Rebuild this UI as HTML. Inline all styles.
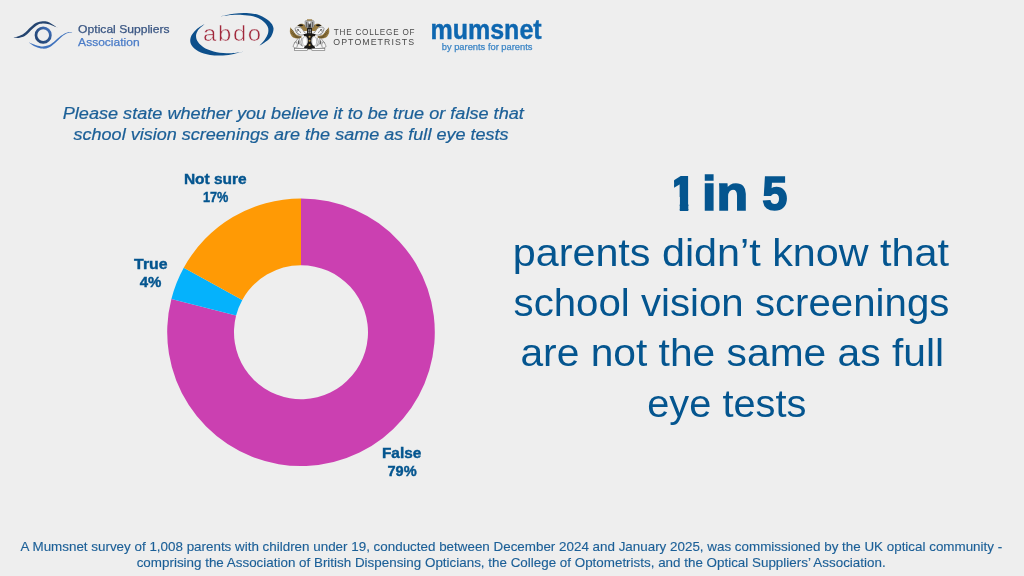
<!DOCTYPE html>
<html lang="en">
<head>
<meta charset="utf-8">
<title>1 in 5 parents didn’t know that school vision screenings are not the same as full eye tests</title>
<style>
html,body{margin:0;padding:0;}
header,p,h1,footer,div{margin:0;padding:0;font-size:inherit;font-weight:inherit;}
body{width:1024px;height:576px;overflow:hidden;background:#EEEEEE;position:relative;font-family:"Liberation Sans",sans-serif;}
.t{position:absolute;white-space:nowrap;display:inline-block;transform-origin:0 0;}
svg{position:absolute;left:0;top:0;}
.w{display:block;position:absolute;left:0;top:0;width:1024px;height:576px;}
</style>
</head>
<body>
<svg width="1024" height="576" viewBox="0 0 1024 576">
<!-- donut chart -->
<g shape-rendering="geometricPrecision">
<path d="M301.00 198.40A133.8 133.8 0 1 1 171.40 298.93L236.10 315.54A67.0 67.0 0 1 0 301.00 265.20Z" fill="#CB40B1"/>
<path d="M171.40 298.93A133.8 133.8 0 0 1 183.75 267.74L242.29 299.92A67.0 67.0 0 0 0 236.10 315.54Z" fill="#05B2FC"/>
<path d="M183.75 267.74A133.8 133.8 0 0 1 301.00 198.40L301.00 265.20A67.0 67.0 0 0 0 242.29 299.92Z" fill="#FF9A05"/>
</g>
<path d="M220.82 16.28C222.97 15.87 229.41 14.35 233.71 13.81C238.01 13.27 242.31 12.82 246.60 13.06C250.90 13.29 255.73 13.86 259.49 15.21C263.25 16.55 266.83 18.96 269.16 21.11C271.49 23.26 273.10 25.59 273.46 28.10C273.82 30.60 272.56 33.91 271.31 36.15C270.06 38.39 267.91 39.95 265.94 41.52C263.97 43.10 260.57 44.93 259.49 45.61L259.49 45.61C260.39 44.57 263.43 41.49 264.86 39.38C266.30 37.26 267.64 35.08 268.09 32.93C268.53 30.78 268.62 28.63 267.55 26.48C266.48 24.34 264.06 21.74 261.64 20.04C259.22 18.34 256.27 17.14 253.05 16.28C249.82 15.42 245.89 15.10 242.31 14.88C238.72 14.67 235.14 14.76 231.56 14.99C227.98 15.22 222.61 16.06 220.82 16.28Z" fill="#0D4F8B"/>
<path d="M204.92 23.80C203.45 24.78 198.48 27.47 196.11 29.71C193.75 31.95 191.55 34.72 190.74 37.23C189.94 39.73 190.03 42.42 191.28 44.75C192.53 47.07 195.13 49.49 198.26 51.19C201.40 52.89 205.96 54.24 210.08 54.95C214.20 55.67 219.03 55.67 222.97 55.49C226.91 55.31 230.40 54.50 233.71 53.88C237.02 53.25 241.32 52.09 242.84 51.73L242.84 51.94C240.96 52.14 235.41 52.98 231.56 53.13C227.71 53.27 223.69 53.39 219.75 52.80C215.81 52.21 211.33 51.10 207.93 49.58C204.53 48.06 201.31 45.73 199.34 43.67C197.37 41.61 196.38 39.38 196.11 37.23C195.84 35.08 196.26 33.02 197.72 30.78C199.19 28.54 203.72 24.96 204.92 23.80Z" fill="#0D4F8B"/>
<defs><linearGradient id="g1" x1="1" y1="0" x2="0" y2="1"><stop offset="0" stop-color="#4272C0"/><stop offset="0.45" stop-color="#2E568F"/><stop offset="1" stop-color="#20406E"/></linearGradient></defs>
<path d="M13.82 37.57C14.69 37.31 17.35 36.70 19.03 36.04C20.71 35.38 21.92 35.12 23.89 33.61C25.86 32.11 28.75 28.81 30.83 27.01C32.92 25.22 34.42 23.80 36.39 22.85C38.36 21.90 40.56 21.44 42.64 21.32C44.72 21.20 46.46 21.12 48.89 22.15C51.32 23.18 55.83 26.61 57.22 27.50L57.22 27.64C55.83 27.08 51.32 24.98 48.89 24.31C46.46 23.63 44.55 23.51 42.64 23.61C40.73 23.72 39.14 24.05 37.43 24.93C35.72 25.81 34.36 27.11 32.36 28.89C30.36 30.67 27.52 34.16 25.42 35.62C23.31 37.09 21.66 37.35 19.72 37.71C17.79 38.07 14.80 37.77 13.82 37.78Z" fill="#24446F"/>
<path d="M29.10 42.64C30.20 43.32 33.44 45.74 35.69 46.74C37.95 47.73 40.44 48.50 42.64 48.61C44.84 48.73 46.86 48.32 48.89 47.43C50.91 46.54 52.65 45.03 54.79 43.26C56.93 41.49 59.71 38.46 61.74 36.81C63.76 35.15 65.21 34.11 66.94 33.33C68.68 32.56 71.28 32.35 72.15 32.15L72.15 31.94C71.23 32.06 68.47 31.99 66.60 32.64C64.72 33.29 63.04 34.28 60.90 35.83C58.76 37.38 55.81 40.37 53.75 41.94C51.69 43.52 50.39 44.54 48.54 45.28C46.69 46.02 44.72 46.41 42.64 46.39C40.56 46.37 38.30 45.80 36.04 45.14C33.78 44.48 30.25 42.88 29.10 42.43Z" fill="#3F72BD"/>
<circle cx="43.19" cy="35.14" r="7.2" fill="none" stroke="url(#g1)" stroke-width="2.7"/>
<path d="M295.19 28.19C295.48 27.33 296.99 27.09 298.11 27.15C299.23 27.21 300.89 27.67 301.93 28.54C302.97 29.41 303.38 31.15 304.36 32.36C305.34 33.58 307.25 33.29 307.83 35.83C308.41 38.38 310.03 45.67 307.83 47.64C305.63 49.61 296.95 48.22 294.64 47.64C292.32 47.06 293.48 45.56 293.94 44.17C294.41 42.78 296.55 40.69 297.42 39.31C298.28 37.92 299.33 36.99 299.15 35.83C298.98 34.68 297.03 33.63 296.38 32.36C295.72 31.09 294.91 29.06 295.19 28.19Z" fill="#f6f6f6" stroke="#5d5d5d" stroke-width="0.6"/>
<path d="M323.94 28.19C323.66 27.33 322.15 27.09 321.03 27.15C319.91 27.21 318.25 27.67 317.21 28.54C316.17 29.41 315.76 31.15 314.78 32.36C313.79 33.58 311.88 33.29 311.31 35.83C310.73 38.38 309.11 45.67 311.31 47.64C313.50 49.61 322.19 48.22 324.50 47.64C326.81 47.06 325.66 45.56 325.19 44.17C324.73 42.78 322.59 40.69 321.72 39.31C320.85 37.92 319.81 36.99 319.99 35.83C320.16 34.68 322.10 33.63 322.76 32.36C323.42 31.09 324.23 29.06 323.94 28.19Z" fill="#f6f6f6" stroke="#5d5d5d" stroke-width="0.6"/>
<path d="M290.33 27.22C290.26 28.08 289.60 30.79 289.92 32.36C290.23 33.94 291.07 35.65 292.21 36.67C293.34 37.69 295.18 38.31 296.72 38.47C298.26 38.63 300.66 37.78 301.44 37.64L301.44 36.11C300.89 36.02 299.15 36.01 298.11 35.56C297.07 35.10 296.07 34.26 295.19 33.40C294.31 32.55 293.64 31.45 292.83 30.42C292.02 29.39 290.75 27.75 290.33 27.22Z" fill="#9A7D42"/>
<path d="M328.81 27.22C328.88 28.08 329.53 30.79 329.22 32.36C328.91 33.94 328.06 35.65 326.93 36.67C325.80 37.69 323.96 38.31 322.42 38.47C320.88 38.63 318.48 37.78 317.69 37.64L317.69 36.11C318.25 36.02 319.99 36.01 321.03 35.56C322.07 35.10 323.06 34.26 323.94 33.40C324.82 32.55 325.50 31.45 326.31 30.42C327.12 29.39 328.39 27.75 328.81 27.22Z" fill="#9A7D42"/>
<path d="M291.03 29.24L293.94 31.67" stroke="#4a3a1a" stroke-width="0.55" fill="none"/>
<path d="M328.11 29.24L325.19 31.67" stroke="#4a3a1a" stroke-width="0.55" fill="none"/>
<path d="M290.82 31.32L294.99 34.10" stroke="#4a3a1a" stroke-width="0.55" fill="none"/>
<path d="M328.32 31.32L324.15 34.10" stroke="#4a3a1a" stroke-width="0.55" fill="none"/>
<path d="M291.31 33.40L296.38 35.83" stroke="#4a3a1a" stroke-width="0.55" fill="none"/>
<path d="M327.83 33.40L322.76 35.83" stroke="#4a3a1a" stroke-width="0.55" fill="none"/>
<path d="M292.90 35.83L298.81 37.08" stroke="#4a3a1a" stroke-width="0.55" fill="none"/>
<path d="M326.24 35.83L320.33 37.08" stroke="#4a3a1a" stroke-width="0.55" fill="none"/>
<path d="M295.33 37.57L300.54 37.08" stroke="#4a3a1a" stroke-width="0.55" fill="none"/>
<path d="M323.81 37.57L318.60 37.08" stroke="#4a3a1a" stroke-width="0.55" fill="none"/>
<path d="M297.28 25.83C297.45 25.37 299.65 23.87 300.89 23.68C302.13 23.50 303.67 24.03 304.71 24.72C305.75 25.42 306.62 26.86 307.14 27.85C307.66 28.83 308.41 30.13 307.83 30.62C307.25 31.12 304.65 31.18 303.67 30.83C302.68 30.49 302.57 29.27 301.93 28.54C301.29 27.81 300.62 26.91 299.85 26.46C299.07 26.01 297.10 26.30 297.28 25.83Z" fill="#9A7D42"/>
<path d="M321.86 25.83C321.69 25.37 319.49 23.87 318.25 23.68C317.01 23.50 315.47 24.03 314.43 24.72C313.39 25.42 312.52 26.86 312.00 27.85C311.48 28.83 310.73 30.13 311.31 30.62C311.88 31.12 314.49 31.18 315.47 30.83C316.46 30.49 316.57 29.27 317.21 28.54C317.84 27.81 318.52 26.91 319.29 26.46C320.07 26.01 322.03 26.30 321.86 25.83Z" fill="#9A7D42"/>
<path d="M297.76 25.56C297.82 25.20 299.96 24.21 300.89 24.17C301.81 24.12 303.38 24.92 303.32 25.28C303.26 25.64 301.47 26.27 300.54 26.32C299.62 26.37 297.71 25.91 297.76 25.56Z" fill="#1b1916"/>
<path d="M321.38 25.56C321.32 25.20 319.18 24.21 318.25 24.17C317.32 24.12 315.76 24.92 315.82 25.28C315.88 25.64 317.67 26.27 318.60 26.32C319.52 26.37 321.43 25.91 321.38 25.56Z" fill="#1b1916"/>
<path d="M296.72 28.89C297.13 29.18 298.46 29.93 299.15 30.62C299.85 31.32 300.60 32.65 300.89 33.06" fill="none" stroke="#5d5d5d" stroke-width="0.6"/>
<path d="M322.42 28.89C322.01 29.18 320.68 29.93 319.99 30.62C319.29 31.32 318.54 32.65 318.25 33.06" fill="none" stroke="#5d5d5d" stroke-width="0.6"/>
<path d="M295.33 29.93C295.68 30.22 297.24 31.26 297.42 31.67C297.59 32.07 296.55 32.25 296.38 32.36" fill="none" stroke="#5d5d5d" stroke-width="0.6"/>
<path d="M323.81 29.93C323.46 30.22 321.90 31.26 321.72 31.67C321.55 32.07 322.59 32.25 322.76 32.36" fill="none" stroke="#5d5d5d" stroke-width="0.6"/>
<path d="M300.19 35.83C300.02 36.53 299.21 38.61 299.15 40.00C299.09 41.39 299.21 43.12 299.85 44.17C300.48 45.21 302.45 45.90 302.97 46.25" fill="none" stroke="#5d5d5d" stroke-width="0.6"/>
<path d="M318.94 35.83C319.12 36.53 319.93 38.61 319.99 40.00C320.04 41.39 319.93 43.12 319.29 44.17C318.66 45.21 316.69 45.90 316.17 46.25" fill="none" stroke="#5d5d5d" stroke-width="0.6"/>
<path d="M296.03 41.39C296.26 41.97 297.30 43.88 297.42 44.86C297.53 45.84 296.84 46.89 296.72 47.29" fill="none" stroke="#5d5d5d" stroke-width="0.6"/>
<path d="M323.11 41.39C322.88 41.97 321.84 43.88 321.72 44.86C321.61 45.84 322.30 46.89 322.42 47.29" fill="none" stroke="#5d5d5d" stroke-width="0.6"/>
<path d="M301.93 37.92C301.76 38.61 300.89 40.81 300.89 42.08C300.89 43.36 301.76 44.98 301.93 45.56" fill="none" stroke="#5d5d5d" stroke-width="0.6"/>
<path d="M317.21 37.92C317.38 38.61 318.25 40.81 318.25 42.08C318.25 43.36 317.38 44.98 317.21 45.56" fill="none" stroke="#5d5d5d" stroke-width="0.6"/>
<path d="M294.29 42.78C294.52 42.66 295.45 42.20 295.68 42.08" fill="none" stroke="#5d5d5d" stroke-width="0.6"/>
<path d="M324.85 42.78C324.62 42.66 323.69 42.20 323.46 42.08" fill="none" stroke="#5d5d5d" stroke-width="0.6"/>
<path d="M297.42 33.06C298.00 33.40 299.85 34.91 300.89 35.14C301.93 35.37 303.20 34.56 303.67 34.44" fill="none" stroke="#5d5d5d" stroke-width="0.6"/>
<path d="M321.72 33.06C321.14 33.40 319.29 34.91 318.25 35.14C317.21 35.37 315.94 34.56 315.47 34.44" fill="none" stroke="#5d5d5d" stroke-width="0.6"/>
<ellipse cx="298.11" cy="29.93" rx="0.97" ry="0.69" fill="#444" />
<ellipse cx="321.03" cy="29.93" rx="0.97" ry="0.69" fill="#444" />
<ellipse cx="298.46" cy="42.43" rx="0.62" ry="2.08" fill="#555" />
<ellipse cx="320.68" cy="42.43" rx="0.62" ry="2.08" fill="#555" />
<rect x="305.19" y="20.69" width="8.75" height="6.53" fill="#e4e4e4" rx="0.8" stroke="#5d5d5d" stroke-width="0.6"/>
<rect x="307.00" y="19.31" width="5.14" height="1.25" fill="#9A7D42" />
<rect x="305.89" y="21.60" width="1.67" height="5.35" fill="#666" />
<rect x="311.58" y="21.60" width="1.67" height="5.35" fill="#666" />
<rect x="308.25" y="23.33" width="2.64" height="3.89" fill="#333" />
<path d="M307.83 21.25L309.57 24.72L311.31 21.25Z" fill="#fff" stroke="#5d5d5d" stroke-width="0.4"/>
<path d="M307.28 28.06C307.84 27.41 311.29 27.41 311.86 28.06C312.43 28.70 311.73 32.91 312.14 33.61C312.54 34.31 314.98 33.78 315.33 34.03C315.68 34.27 315.42 35.40 315.12 35.69C314.83 35.99 313.26 36.15 312.83 36.53C312.40 36.91 311.61 38.27 311.44 38.96C311.28 39.65 311.28 41.73 311.44 42.43C311.61 43.14 312.46 44.51 312.83 45.00C313.21 45.49 314.45 46.19 314.64 46.60C314.83 47.00 315.02 48.17 314.43 48.47C313.84 48.77 310.70 49.17 309.57 49.17C308.44 49.17 305.30 48.77 304.71 48.47C304.12 48.17 304.31 47.00 304.50 46.60C304.69 46.19 305.93 45.49 306.31 45.00C306.68 44.51 307.53 43.14 307.69 42.43C307.86 41.73 307.86 39.65 307.69 38.96C307.53 38.27 306.73 36.91 306.31 36.53C305.88 36.15 304.31 35.99 304.01 35.69C303.72 35.40 303.46 34.27 303.81 34.03C304.15 33.78 306.59 34.31 307.00 33.61C307.41 32.91 306.71 28.70 307.28 28.06Z" fill="#1b1916"/>
<ellipse cx="304.92" cy="41.25" rx="2.36" ry="4.58" fill="#ffffff" stroke="#5d5d5d" stroke-width="0.4"/>
<ellipse cx="314.22" cy="41.25" rx="2.36" ry="4.58" fill="#ffffff" stroke="#5d5d5d" stroke-width="0.4"/>
<rect x="308.04" y="35.83" width="3.06" height="9.72" fill="#1b1916" />
<ellipse cx="309.57" cy="36.67" rx="1.04" ry="1.04" fill="#B39450" />
<ellipse cx="309.57" cy="40.83" rx="1.04" ry="1.04" fill="#B39450" />
<ellipse cx="309.57" cy="45.00" rx="1.04" ry="1.04" fill="#B39450" />
<rect x="308.04" y="29.24" width="3.06" height="3.96" fill="#8d8d8d" />
<rect x="309.36" y="29.24" width="0.42" height="3.96" fill="#1b1916" />
<rect x="308.04" y="30.97" width="3.06" height="0.42" fill="#1b1916" />
<ellipse cx="305.61" cy="47.64" rx="1.39" ry="0.62" fill="#1b1916" />
<ellipse cx="313.53" cy="47.64" rx="1.39" ry="0.62" fill="#1b1916" />
<rect x="294.29" y="48.47" width="12.99" height="1.81" fill="#ffffff" stroke="#5d5d5d" stroke-width="0.55"/>
<rect x="311.86" y="48.47" width="12.99" height="1.81" fill="#ffffff" stroke="#5d5d5d" stroke-width="0.55"/>
</svg>
<header class="logos">
<span class="t" id="o1" style="left:0;top:0;font-size:11.2px;line-height:11.2px;font-weight:400;font-style:normal;color:#3A5683;-webkit-text-stroke:0.25px #3A5683;transform:translate(78.12px,24.29px) scaleX(1.0821)">Optical Suppliers</span>
<span class="t" id="o2" style="left:0;top:0;font-size:11.2px;line-height:11.2px;font-weight:400;font-style:normal;color:#4A7CC8;-webkit-text-stroke:0.25px #4A7CC8;transform:translate(78.12px,37.09px) scaleX(1.0748)">Association</span>
<span class="t" id="c1" style="left:0;top:0;font-size:8.3px;line-height:8.3px;font-weight:400;font-style:normal;color:#4a4a4a;letter-spacing:0.8px;transform:translate(333.80px,27.97px) scaleX(0.9799)">THE COLLEGE OF</span>
<span class="t" id="c2" style="left:0;top:0;font-size:8.3px;line-height:8.3px;font-weight:400;font-style:normal;color:#4a4a4a;letter-spacing:1.0px;transform:translate(333.30px,38.47px) scaleX(1.0590)">OPTOMETRISTS</span>
<span class="t" id="m1" style="left:0;top:0;font-size:26.8px;line-height:26.8px;font-weight:700;font-style:normal;color:#0E67B0;-webkit-text-stroke:0.4px #0E67B0;transform:translate(430.47px,17.01px) scaleX(0.9332)">mumsnet</span>
<span class="t" id="m2" style="left:0;top:0;font-size:9.2px;line-height:9.2px;font-weight:400;font-style:normal;color:#3D86C6;-webkit-text-stroke:0.25px #3D86C6;transform:translate(441.73px,42.79px) scaleX(1.0153)">by parents for parents</span>
<span class="t" id="a1" style="left:0;top:0;font-size:22.3px;line-height:22.3px;font-weight:400;font-style:normal;color:#A0263A;letter-spacing:1.5px;-webkit-text-stroke:0.55px #EEEEEE;transform:translate(203.10px,23.02px) scaleX(1.0726)">abdo</span>
</header>
<p class="question">
<span class="t" id="q1" style="left:0;top:0;font-size:15.6px;line-height:15.6px;font-weight:400;font-style:italic;color:#1B5F97;-webkit-text-stroke:0.2px #1B5F97;transform:translate(62.70px,106.09px) scaleX(1.1615)">Please state whether you believe it to be true or false that</span>
<span class="t" id="q2" style="left:0;top:0;font-size:15.6px;line-height:15.6px;font-weight:400;font-style:italic;color:#1B5F97;-webkit-text-stroke:0.2px #1B5F97;transform:translate(73.50px,126.79px) scaleX(1.1566)">school vision screenings are the same as full eye tests</span>
</p>
<div class="chart-labels">
<span class="t" id="l1" style="left:0;top:0;font-size:14.4px;line-height:14.4px;font-weight:700;font-style:normal;color:#04558F;-webkit-text-stroke:0.4px #04558F;transform:translate(183.90px,172.41px) scaleX(1.0759)">Not sure</span>
<span class="t" id="l2" style="left:0;top:0;font-size:14.4px;line-height:14.4px;font-weight:700;font-style:normal;color:#04558F;-webkit-text-stroke:0.4px #04558F;transform:translate(202.90px,190.41px) scaleX(0.8826)">17%</span>
<span class="t" id="l3" style="left:0;top:0;font-size:14.4px;line-height:14.4px;font-weight:700;font-style:normal;color:#04558F;-webkit-text-stroke:0.4px #04558F;transform:translate(134.10px,256.51px) scaleX(1.0992)">True</span>
<span class="t" id="l4" style="left:0;top:0;font-size:14.4px;line-height:14.4px;font-weight:700;font-style:normal;color:#04558F;-webkit-text-stroke:0.4px #04558F;transform:translate(139.70px,274.51px) scaleX(1.0427)">4%</span>
<span class="t" id="l5" style="left:0;top:0;font-size:14.4px;line-height:14.4px;font-weight:700;font-style:normal;color:#04558F;-webkit-text-stroke:0.4px #04558F;transform:translate(381.90px,446.21px) scaleX(1.0708)">False</span>
<span class="t" id="l6" style="left:0;top:0;font-size:14.4px;line-height:14.4px;font-weight:700;font-style:normal;color:#04558F;-webkit-text-stroke:0.4px #04558F;transform:translate(387.50px,464.31px) scaleX(1.0136)">79%</span>
</div>
<h1 class="headline">
<span class="w" style="clip-path:polygon(674.1px 170px,688.3px 170px,688.3px 215px,679.8px 215px,679.8px 197px,674.1px 197px)"><span class="t" id="h1a" style="left:0;top:0;font-size:48.8px;line-height:48.8px;font-weight:700;font-style:normal;color:#04558F;-webkit-text-stroke:2.0px #04558F;transform:translate(669.20px,168.69px) scaleX(1.0000)">1</span></span>
<span class="t" id="h1b" style="left:0;top:0;font-size:48.8px;line-height:48.8px;font-weight:700;font-style:normal;color:#04558F;-webkit-text-stroke:1.6px #04558F;transform:translate(702.11px,168.89px) scaleX(1.0624)">in</span>
<span class="t" id="h1c" style="left:0;top:0;font-size:48.8px;line-height:48.8px;font-weight:700;font-style:normal;color:#04558F;-webkit-text-stroke:1.6px #04558F;transform:translate(762.37px,169.49px) scaleX(0.9280)">5</span>
</h1>
<p class="statement">
<span class="t" id="b1" style="left:0;top:0;font-size:38.0px;line-height:38.0px;font-weight:400;font-style:normal;color:#04558F;transform:translate(512.73px,234.23px) scaleX(1.0868)">parents didn’t know that</span>
<span class="t" id="b2" style="left:0;top:0;font-size:38.0px;line-height:38.0px;font-weight:400;font-style:normal;color:#04558F;transform:translate(513.54px,283.83px) scaleX(1.0581)">school vision screenings</span>
<span class="t" id="b3" style="left:0;top:0;font-size:38.0px;line-height:38.0px;font-weight:400;font-style:normal;color:#04558F;transform:translate(520.43px,333.53px) scaleX(1.0724)">are not the same as full</span>
<span class="t" id="b4" style="left:0;top:0;font-size:38.0px;line-height:38.0px;font-weight:400;font-style:normal;color:#04558F;transform:translate(647.25px,384.83px) scaleX(1.0461)">eye tests</span>
</p>
<footer class="source">
<span class="t" id="f1" style="left:0;top:0;font-size:11.9px;line-height:11.9px;font-weight:400;font-style:normal;color:#1B5F97;-webkit-text-stroke:0.12px #1B5F97;transform:translate(20.56px,541.57px) scaleX(1.1268)">A Mumsnet survey of 1,008 parents with children under 19, conducted between December 2024 and January 2025, was commissioned by the UK optical community -</span>
<span class="t" id="f2" style="left:0;top:0;font-size:11.9px;line-height:11.9px;font-weight:400;font-style:normal;color:#1B5F97;-webkit-text-stroke:0.12px #1B5F97;transform:translate(136.66px,557.97px) scaleX(1.1272)">comprising the Association of British Dispensing Opticians, the College of Optometrists, and the Optical Suppliers’ Association.</span>
</footer>
</body>
</html>
